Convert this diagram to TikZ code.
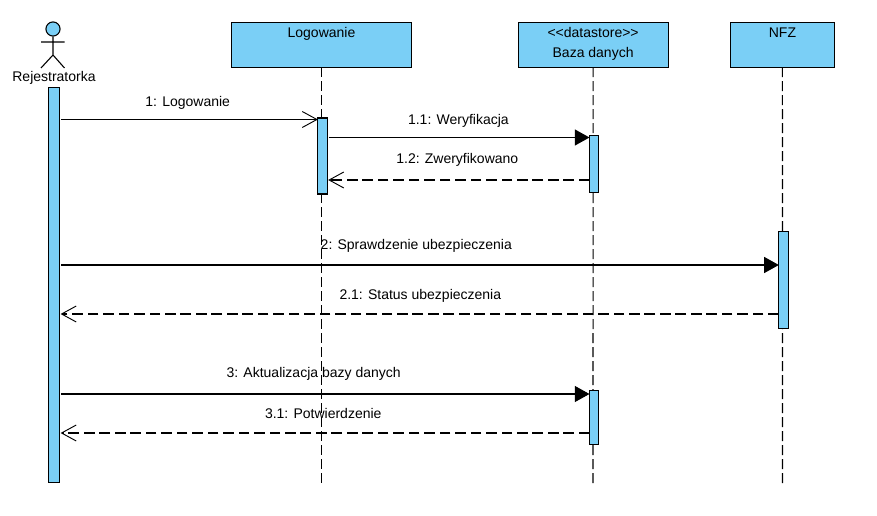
\documentclass[tikz,border=0pt]{standalone}
\usepackage{fontspec}
\setmainfont{Liberation Sans}
\usetikzlibrary{positioning,arrows.meta,quotes}
\definecolor{umlblue}{HTML}{7ACFF6}

\begin{document}
\begin{tikzpicture}[
    x=.75pt,y=-.75pt,line width=.82pt,
    node font=\fontsize{10.5pt}{12pt}\selectfont,
    txt/.style={text height=7.5pt,text depth=2pt,inner sep=0pt},
    lifebox/.style={draw,fill=umlblue,minimum height=33.4pt,outer sep=0pt,inner sep=0pt},
    boxlabel/.style={txt,anchor=center,yshift=-8.3pt},
    bar/.style={draw,fill=umlblue,minimum width=7pt,inner sep=0pt,outer sep=0pt,xshift=.8pt},
    lifeline/.style={dash pattern=on 7.5pt off 3pt},
    sync/.style={-{Triangle[length=11pt,width=12pt]},shorten <=1.2pt},
    call/.style={-{Straight Barb[length=11pt,width=12pt,line width=.7pt]},shorten <=1.2pt},
    reply/.style={-{Straight Barb[length=11pt,width=12pt,line width=.7pt]},dash pattern=on 8pt off 3.6pt,shorten >=.7pt},
    every edge quotes/.style={txt,anchor=center},
]
\useasboundingbox (0,0) rectangle (877,516);

% lifelines heads
\node[lifebox,minimum width=134.5pt,label={[boxlabel]north:Logowanie}] (log) at (321.5,44.8) {};
\node[lifebox,minimum width=112.5pt,right=80.2pt of log,
    label={[boxlabel]north:{<{}<datastore>{}>}},
    label={[boxlabel,yshift=-15pt]north:Baza danych}] (db) {};
\node[lifebox,minimum width=78.5pt,right=46.5pt of db,label={[boxlabel]north:NFZ}] (nfz) {};

% actor
\node[circle,draw,fill=umlblue,minimum size=10.6pt,inner sep=0pt] (head) at (53,29) {};
\node[txt] (rej) at (54,78) {Rejestratorka};
\coordinate (hip) at (53,55);
\coordinate (armL) at (41,42);
\coordinate (armR) at (64.5,42);
\coordinate (legL) at (41,68);
\coordinate (legR) at (64.5,68);
\draw (head.south) -- (hip) (armL) -- (armR) (legL) -- (hip) -- (legR);

% ends of the lifelines
\coordinate (logend) at (321.5,484);
\coordinate (dbend) at (593,484);
\coordinate (nfzend) at (782.5,484);
\draw[lifeline] (log.south) -- (logend);
\draw[lifeline] (db.south) -- (dbend);
\draw[lifeline] (nfz.south) -- (nfzend);

% activations
\node[bar,minimum width=8.4pt,minimum height=296pt,anchor=north,xshift=0pt] (rejbar) at (53,87.5) {};
\node[bar,minimum height=57pt,below=38.2pt of log] (logbar) {};
\node[bar,minimum height=42.4pt,below=51.4pt of db] (dbbar) {};
\node[bar,minimum height=72.4pt,below=123.4pt of nfz] (nfzbar) {};
\node[bar,minimum height=40.4pt,below=242.4pt of db] (dbbarb) {};

% message levels
\foreach \name/\y in {ma/119.5,mb/137.5,mc/180,md/265,me/314,mf/394,mg/433}
    \coordinate (\name) at (0,\y);

\path (rejbar.east |- ma) edge[call,"1: Logowanie"{xshift=-.8pt,yshift=12.8pt}] (logbar.west |- ma);
\path (logbar.east |- mb) edge[sync,"1.1: Weryfikacja"{xshift=0pt,yshift=12.8pt}] (dbbar.west |- mb);
\path (dbbar.west |- mc) edge[reply,"1.2: Zweryfikowano"{xshift=-.8pt,yshift=14.8pt}] (logbar.east |- mc);
\path (rejbar.east |- md) edge[sync,"2: Sprawdzenie ubezpieczenia"{xshift=-2.2pt,yshift=14pt}] (nfzbar.west |- md);
\path (nfzbar.west |- me) edge[reply,"2.1: Status ubezpieczenia"{xshift=.8pt,yshift=13.3pt}] (rejbar.east |- me);
\path (rejbar.east |- mf) edge[sync,"3: Aktualizacja bazy danych"{xshift=-8.2pt,yshift=15.5pt}] (dbbarb.west |- mf);
\path (dbbarb.west |- mg) edge[reply,"3.1: Potwierdzenie"{xshift=-1pt,yshift=13.8pt}] (rejbar.east |- mg);
\end{tikzpicture}
\end{document}
